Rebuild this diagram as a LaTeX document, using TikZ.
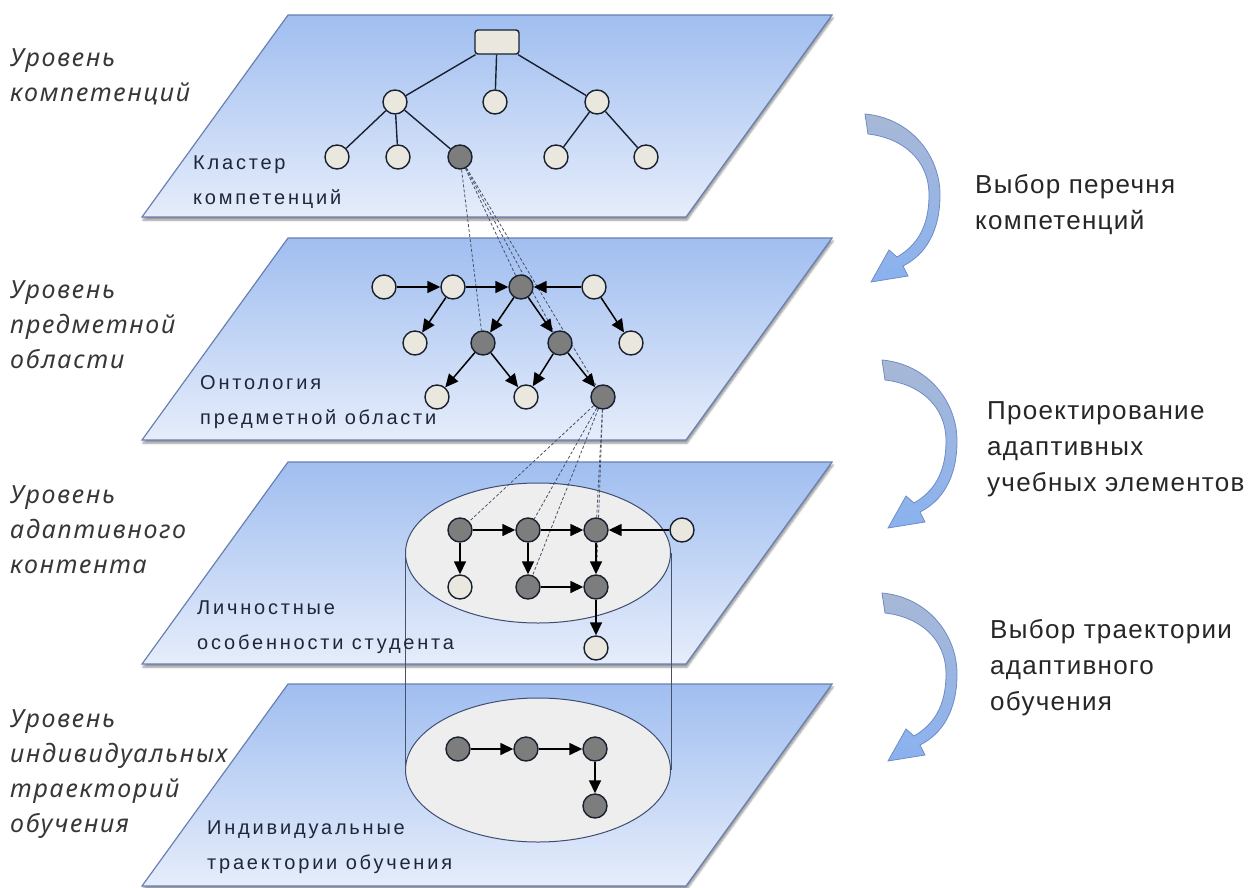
\documentclass[tikz,border=0pt]{standalone}
\usepackage{fontspec}
\setmainfont{Liberation Sans}
\newfontfamily\levelfont{Noto Sans}[LetterSpace=7]
\newfontfamily\stepfont{Liberation Sans}[LetterSpace=5]
\newfontfamily\notefont{Liberation Sans}[LetterSpace=14]
\usetikzlibrary{arrows.meta,shapes.geometric,shadows.blur}

\definecolor{planetop}{RGB}{160,190,240}
\definecolor{planebot}{RGB}{230,237,251}
\definecolor{planeedge}{RGB}{105,128,178}
\definecolor{nodelight}{RGB}{234,232,222}
\definecolor{nodedark}{RGB}{125,125,125}
\definecolor{nodeedge}{RGB}{25,32,48}
\definecolor{linkcol}{RGB}{70,82,105}
\definecolor{ovalfill}{RGB}{238,238,238}
\definecolor{ovaledge}{RGB}{62,78,112}
\definecolor{bendtop}{RGB}{168,184,214}
\definecolor{bendbot}{RGB}{138,178,240}
\definecolor{bendedge}{RGB}{112,140,196}
\definecolor{lvlcol}{RGB}{55,55,55}
\definecolor{notecol}{RGB}{30,38,58}

\pgfdeclarelayer{back}
\pgfdeclarelayer{mid}
\pgfsetlayers{back,mid,main}

\tikzset{
  planefill/.style={top color=planetop, bottom color=planebot, draw=planeedge, line width=1.2pt,
    blur shadow={shadow xshift=1pt, shadow yshift=-3pt, shadow blur steps=6, shadow opacity=45}},
  lnode/.style={circle, draw=nodeedge, line width=1.4pt, fill=nodelight, minimum size=24pt, inner sep=0pt},
  dnode/.style={lnode, fill=nodedark},
  rootbox/.style={rectangle, rounded corners=3pt, draw=nodeedge, line width=1.4pt, fill=nodelight,
    minimum width=44pt, minimum height=24pt},
  treeline/.style={draw=nodeedge, line width=1.4pt},
  flowarrow/.style={draw=black, line width=1.5pt, -{Triangle[length=13pt, width=12pt]}},
  linkline/.style={draw=linkcol, line width=0.8pt, dash pattern=on 3pt off 2pt},
  tieline/.style={draw=linkcol, line width=0.8pt},
  oval/.style={ellipse, draw=ovaledge, line width=1pt, fill=ovalfill, minimum width=265pt, minimum height=140pt},
  bendarrow/.style={top color=bendtop, bottom color=bendbot, draw=bendedge, line width=0.8pt},
  lvltext/.style={anchor=west, align=left, inner sep=0pt, text=lvlcol,
    font=\levelfont\itshape\fontsize{25}{35}\selectfont},
  notetext/.style={anchor=west, align=left, inner sep=0pt, text=notecol,
    font=\notefont\fontsize{20}{35}\selectfont},
  steptext/.style={anchor=west, align=left, inner sep=0pt, text=black!85,
    font=\stepfont\fontsize{26}{36}\selectfont},
}

\begin{document}
\begin{tikzpicture}[x=1pt, y=-1pt]
\useasboundingbox (0,0) rectangle (1252,888);

% planes
\begin{pgfonlayer}{back}
\foreach \top in {15,238,462,684}
  \path[planefill] (288,\top) -- (832,\top) -- ++(-146,202) -- ++(-544,0) -- cycle;
\node[oval] (ovC) at (538,553) {};
\node[oval, minimum height=144pt] (ovD) at (538,770) {};
\draw[tieline] (ovC.west) -- (ovD.west) (ovC.east) -- (ovD.east);
\end{pgfonlayer}

% level names
\node[lvltext] (lvA) at (10,77) {Уровень\\компетенций};
\node[lvltext] (lvB) at (10,325) {Уровень\\предметной\\области};
\node[lvltext] (lvC) at (10,530) {Уровень\\адаптивного\\контента};
\node[lvltext] (lvD) at (10,774) {Уровень\\индивидуальных\\траекторий\\обучения};

\node[notetext] (ntA) at (193,182) {Кластер\\компетенций};
\node[notetext] (ntB) at (200,402) {Онтология\\предметной области};
\node[notetext] (ntC) at (197,627) {Личностные\\особенности студента};
\node[notetext] (ntD) at (207,847) {Индивидуальные\\траектории обучения};

% competencies
\node[rootbox] (r) at (497,42) {};
\node[lnode] (c1) at (395,102) {};
\node[lnode] (c2) at (495,102) {};
\node[lnode] (c3) at (597,102) {};
\node[lnode] (c11) at (337,157) {};
\node[lnode] (c12) at (398,157) {};
\node[dnode] (c13) at (460,157) {};
\node[lnode] (c31) at (556,157) {};
\node[lnode] (c32) at (646,157) {};
\draw[treeline] (r) -- (c1) (r) -- (c2) (r) -- (c3)
  (c1) -- (c11) (c1) -- (c12) (c1) -- (c13) (c3) -- (c31) (c3) -- (c32);

% ontology
\node[lnode] (o1) at (384,287) {};
\node[lnode] (o2) at (453,287) {};
\node[dnode] (o3) at (521,287) {};
\node[lnode] (o4) at (594,287) {};
\node[lnode] (o5) at (415,343) {};
\node[dnode] (o6) at (483,343) {};
\node[dnode] (o7) at (560,343) {};
\node[lnode] (o8) at (631,343) {};
\node[lnode] (o9) at (437,397) {};
\node[lnode] (o10) at (526,397) {};
\node[dnode] (o11) at (603,397) {};
\draw[flowarrow] (o1) -- (o2);
\draw[flowarrow] (o2) -- (o3);
\draw[flowarrow] (o4) -- (o3);
\draw[flowarrow] (o2) -- (o5);
\draw[flowarrow] (o3) -- (o6);
\draw[flowarrow] (o3) -- (o7);
\draw[flowarrow] (o4) -- (o8);
\draw[flowarrow] (o6) -- (o9);
\draw[flowarrow] (o6) -- (o10);
\draw[flowarrow] (o7) -- (o10);
\draw[flowarrow] (o7) -- (o11);

% adaptive content
\node[dnode] (a1) at (460,530) {};
\node[dnode] (a2) at (528,530) {};
\node[dnode] (a3) at (596,530) {};
\node[lnode] (a4) at (682,530) {};
\node[lnode] (a5) at (460,587) {};
\node[dnode] (a6) at (528,587) {};
\node[dnode] (a7) at (596,587) {};
\node[lnode] (a8) at (596,648) {};
\draw[flowarrow] (a1) -- (a2);
\draw[flowarrow] (a2) -- (a3);
\draw[flowarrow] (a4) -- (a3);
\draw[flowarrow] (a1) -- (a5);
\draw[flowarrow] (a2) -- (a6);
\draw[flowarrow] (a3) -- (a7);
\draw[flowarrow] (a6) -- (a7);
\draw[flowarrow] (a7) -- (a8);

% trajectory
\node[dnode] (t1) at (458,749) {};
\node[dnode] (t2) at (526,749) {};
\node[dnode] (t3) at (595,749) {};
\node[dnode] (t4) at (595,806) {};
\draw[flowarrow] (t1) -- (t2);
\draw[flowarrow] (t2) -- (t3);
\draw[flowarrow] (t3) -- (t4);

% links between levels
\begin{pgfonlayer}{mid}
\foreach \b in {o3,o6,o7,o11}
  \draw[linkline] (c13) -- (\b);
\foreach \b in {a1,a2,a3,a6,a7}
  \draw[linkline] (o11) -- (\b);
\end{pgfonlayer}

% steps
\foreach \dx/\dy in {0/0,17/246,17/479}
  \path[bendarrow, shift={(\dx,\dy)}] (865,114) .. controls (910,118) and (940,155) .. (940,195)
    .. controls (940,232) and (925,255) .. (903,266) -- (908,276) -- (871,282) -- (889,250) -- (897,257)
    .. controls (916,246) and (929,228) .. (929,195) .. controls (929,160) and (903,138) .. (868,134) -- cycle;

\node[steptext] (stA) at (975,205) {Выбор перечня\\компетенций};
\node[steptext] (stB) at (987,449) {Проектирование\\адаптивных\\учебных элементов};
\node[steptext] (stC) at (990,668) {Выбор траектории\\адаптивного\\обучения};
\end{tikzpicture}
\end{document}
